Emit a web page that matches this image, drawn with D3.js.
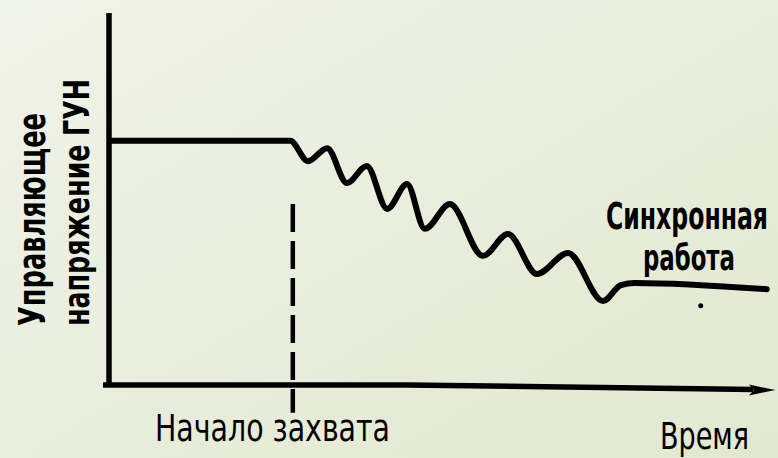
<!DOCTYPE html>
<html>
<head>
<meta charset="utf-8">
<script src="https://cdn.jsdelivr.net/npm/d3@7"></script>
<style>
  html, body { margin: 0; padding: 0; }
  body { width: 778px; height: 458px; overflow: hidden; }
  text { font-family: "DejaVu Sans Condensed", "Liberation Sans Narrow", "Liberation Sans", sans-serif; fill: #000; }
</style>
</head>
<body>
<svg id="chart" width="778" height="458"></svg>
<script>
// ---- data (time and control voltage, arbitrary units 0..100) ----
const curveTime    = [0, 27.3, 30.0, 32.9, 35.9, 38.9, 42.0, 45.0, 47.7, 51.5, 56.5, 60.3, 64.7, 69.4, 74.7, 77.4, 79.5, 99.5];
const curveVoltage = [66, 66, 60.5, 64.0, 54.6, 59.2, 47.6, 54.3, 42.2, 48.9, 34.9, 40.8, 30.0, 35.7, 22.7, 27.0, 27.6, 25.9];
const captureTime = 27.7;               // "Начало захвата"
const captureMarkerTop = 48.9;          // top of dashed marker
const captureMarkerBottom = -7.5;       // bottom of dashed marker (below axis)
const speckTime = [89.5];               // print speck under the steady line
const speckVoltage = [21.4];
const yLabelLines = ["Управляющее", "напряжение ГУН"];
const xLabelCapture = "Начало захвата";
const xLabelAxis = "Время";
const lockLabelLines = ["Синхронная", "работа"];

// ---- layout ----
const svg = d3.select("#chart");
const W = 778, H = 458;

const defs = svg.append("defs");
const grad = defs.append("linearGradient").attr("id", "bg")
  .attr("x1", "0%").attr("y1", "0%").attr("x2", "100%").attr("y2", "100%");
grad.append("stop").attr("offset", "0%").attr("stop-color", "#f0f3e7");
grad.append("stop").attr("offset", "55%").attr("stop-color", "#e8eddb");
grad.append("stop").attr("offset", "100%").attr("stop-color", "#e2e8d0");
svg.append("rect").attr("width", W).attr("height", H).attr("fill", "url(#bg)");

const x = d3.scaleLinear().domain([0, 100]).range([110, 770]);
const y = d3.scaleLinear().domain([0, 100]).range([385, 15]);

const g = svg.append("g");
// y axis
g.append("line")
  .attr("x1", x(0) - 1).attr("x2", x(0) - 1)
  .attr("y1", y(100) - 2).attr("y2", y(0) + 1)
  .attr("stroke", "#000").attr("stroke-width", 5.5);
// x axis (slight scan tilt toward right)
g.append("path")
  .attr("d", d3.line()([[x(0) - 7, y(0)], [x(45), y(0)], [x(97.5), y(0) + 4.5]]))
  .attr("fill", "none").attr("stroke", "#000").attr("stroke-width", 5.5);
// arrow head
g.append("path")
  .attr("d", d3.line()([[x(96.8), y(0) - 0.5], [x(100.8), y(0) + 5], [x(96.8), y(0) + 10.5], [x(97.6), y(0) + 5]]) + "Z")
  .attr("fill", "#000");

// dashed capture marker
g.append("line")
  .attr("x1", x(captureTime)).attr("x2", x(captureTime))
  .attr("y1", y(captureMarkerTop)).attr("y2", y(captureMarkerBottom))
  .attr("stroke", "#000").attr("stroke-width", 4.5)
  .attr("stroke-dasharray", "28 9");

// curve
const pts = curveTime.map((t, i) => [x(t), y(curveVoltage[i])]);
g.append("path")
  .attr("d", d3.line().curve(d3.curveMonotoneX)(pts))
  .attr("fill", "none").attr("stroke", "#000")
  .attr("stroke-width", 6).attr("stroke-linejoin", "round").attr("stroke-linecap", "round");

// speck
g.selectAll("circle.speck").data(speckTime).join("circle")
  .attr("class", "speck")
  .attr("cx", (d) => x(d)).attr("cy", (d, i) => y(speckVoltage[i]))
  .attr("r", 2.5).attr("fill", "#000");

// labels
function label(txt, px, py, len, size, weight, rot, sy) {
  return svg.append("text")
    .attr("x", 0).attr("y", 0)
    .attr("transform", `translate(${px},${py}) rotate(${rot || 0}) scale(1,${sy || 1})`)
    .attr("font-size", size).attr("font-weight", weight)
    .attr("textLength", len).attr("lengthAdjust", "spacingAndGlyphs")
    .text(txt);
}

// y axis title (rotated)
label(yLabelLines[0], 45, 326, 213, 38, "bold", -90);
label(yLabelLines[1], 89, 326, 247, 35, "bold", -90);

// bottom labels
label(xLabelCapture, 155, 441, 235, 37, "normal");
label(xLabelAxis, 660, 449, 89, 38, "normal");

// steady-state label
label(lockLabelLines[0], 606, 229, 162, 28, "bold", 0, 1.3);
label(lockLabelLines[1], 643, 270, 92, 28, "bold", 0, 1.25);
</script>
</body>
</html>
